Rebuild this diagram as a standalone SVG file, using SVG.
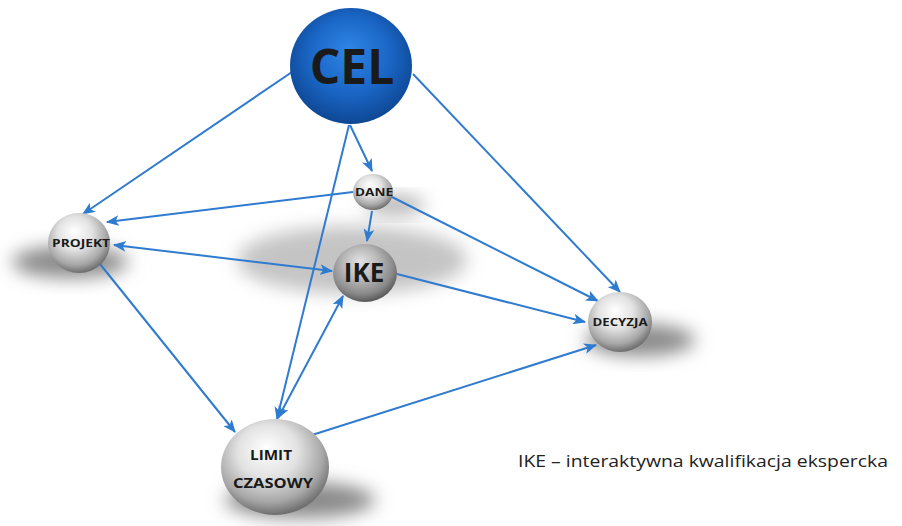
<svg xmlns="http://www.w3.org/2000/svg" width="902" height="526" viewBox="0 0 902 526">
<style>
.lbl{font-family:"Open Sans","Liberation Sans",sans-serif;font-weight:bold;fill:#1a1a1a;text-anchor:middle}
.con line{stroke:#2f7bd0;stroke-width:2;fill:none}
.shadow{fill:#8a8a8a;filter:url(#blur)}
.legend{font-family:"Open Sans","Liberation Sans",sans-serif;font-size:17px;fill:#222}
</style>
<defs>
<filter id="blur" x="-50%" y="-50%" width="200%" height="200%"><feGaussianBlur stdDeviation="9"/></filter>
<radialGradient id="grey" cx="45%" cy="38%" r="62%" fx="42%" fy="30%">
<stop offset="0" stop-color="#ffffff"/>
<stop offset="0.45" stop-color="#e2e2e2"/>
<stop offset="0.8" stop-color="#a8a8a8"/>
<stop offset="1" stop-color="#6e6e6e"/>
</radialGradient>
<radialGradient id="greyDark" cx="45%" cy="38%" r="62%" fx="42%" fy="30%">
<stop offset="0" stop-color="#e4e4e4"/>
<stop offset="0.45" stop-color="#b8b8b8"/>
<stop offset="0.8" stop-color="#8a8a8a"/>
<stop offset="1" stop-color="#5a5a5a"/>
</radialGradient>
<radialGradient id="blue" cx="50%" cy="45%" r="60%" fx="48%" fy="35%">
<stop offset="0" stop-color="#2f85e6"/>
<stop offset="0.55" stop-color="#1a66c6"/>
<stop offset="0.9" stop-color="#0f4a98"/>
<stop offset="1" stop-color="#0a3a7a"/>
</radialGradient>
<marker id="arr" viewBox="0 0 12 10" refX="11" refY="5" markerWidth="13" markerHeight="11" markerUnits="userSpaceOnUse" orient="auto-start-reverse">
<path d="M0,0 L12,5 L0,10 L3,5 z" fill="#2f7bd0"/>
</marker>
</defs>
<rect width="902" height="526" fill="#ffffff"/>

<g id="shadows">
<ellipse class="shadow" cx="70" cy="262" rx="58" ry="16"/>
<ellipse class="shadow" cx="352" cy="260" rx="115" ry="34" opacity="0.5"/>
<ellipse class="shadow" cx="395" cy="205" rx="30" ry="9" opacity="0.7"/>
<ellipse class="shadow" cx="640" cy="340" rx="55" ry="16"/>
<ellipse class="shadow" cx="300" cy="500" rx="75" ry="18"/>
</g>

<g id="connectors" class="con">
<line x1="292" y1="72" x2="83" y2="214" marker-end="url(#arr)"/>
<line x1="350" y1="125" x2="372" y2="171" marker-end="url(#arr)"/>
<line x1="349" y1="125" x2="277" y2="419" marker-end="url(#arr)"/>
<line x1="413" y1="74" x2="620" y2="292" marker-end="url(#arr)"/>
<line x1="353" y1="192" x2="107" y2="222" marker-end="url(#arr)"/>
<line x1="372" y1="211" x2="367" y2="241" marker-end="url(#arr)"/>
<line x1="392" y1="197" x2="598" y2="301" marker-end="url(#arr)"/>
<line x1="114" y1="245" x2="332" y2="271" marker-start="url(#arr)" marker-end="url(#arr)"/>
<line x1="397" y1="274" x2="585" y2="322" marker-end="url(#arr)"/>
<line x1="100" y1="264" x2="235" y2="432" marker-end="url(#arr)"/>
<line x1="278" y1="418" x2="343" y2="296" marker-start="url(#arr)" marker-end="url(#arr)"/>
<line x1="312" y1="435" x2="596" y2="345" marker-end="url(#arr)"/>
</g>

<g id="cel">
<ellipse cx="351" cy="66" rx="61" ry="58" fill="url(#blue)"/>
<text class="lbl" x="352" y="84" font-size="48">CEL</text>
</g>
<g id="dane">
<ellipse cx="373" cy="192" rx="20" ry="18" fill="url(#grey)"/>
<text class="lbl" x="374" y="196" font-size="11" textLength="38" lengthAdjust="spacingAndGlyphs">DANE</text>
</g>
<g id="ike">
<ellipse cx="365" cy="273" rx="32" ry="29" fill="url(#greyDark)"/>
<text class="lbl" x="364" y="282" font-size="26">IKE</text>
</g>
<g id="projekt">
<ellipse cx="79" cy="243" rx="31" ry="30" fill="url(#grey)"/>
<text class="lbl" x="81" y="247" font-size="11" textLength="58" lengthAdjust="spacingAndGlyphs">PROJEKT</text>
</g>
<g id="decyzja">
<ellipse cx="620" cy="322" rx="32" ry="30" fill="url(#grey)"/>
<text class="lbl" x="620" y="326" font-size="11" textLength="55" lengthAdjust="spacingAndGlyphs">DECYZJA</text>
</g>
<g id="limit">
<ellipse cx="275" cy="467" rx="54" ry="48" fill="url(#grey)"/>
<text class="lbl" x="271" y="460" font-size="14.5" textLength="42" lengthAdjust="spacingAndGlyphs">LIMIT</text>
<text class="lbl" x="273" y="488" font-size="14.5" textLength="80" lengthAdjust="spacingAndGlyphs">CZASOWY</text>
</g>

<text class="legend" x="518" y="467" textLength="370" lengthAdjust="spacingAndGlyphs">IKE – interaktywna kwalifikacja ekspercka</text>
</svg>
